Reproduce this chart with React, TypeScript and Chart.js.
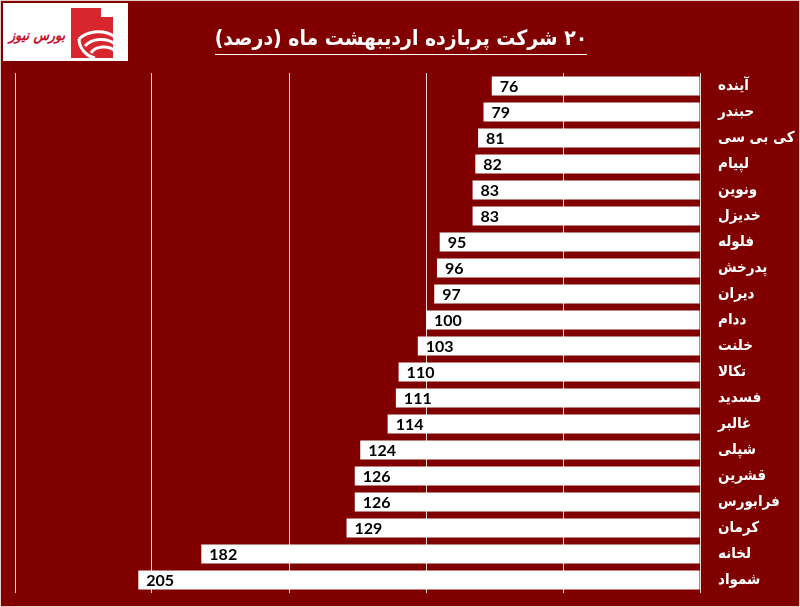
import React, { useEffect, useRef } from "react";
import { Chart, registerables } from "chart.js";

Chart.register(...registerables);

const categories = [
  "آینده", "حبندر", "کی بی سی", "لپیام", "ونوین", "خدیزل", "فلوله", "پدرخش", "دیران", "ددام",
  "خلنت", "تکالا", "فسدید", "غالبر", "شپلی", "قشرین", "فرابورس", "کرمان", "لخانه", "شمواد",
];
const values = [76, 79, 81, 82, 83, 83, 95, 96, 97, 100, 103, 110, 111, 114, 124, 126, 126, 129, 182, 205];
const axisMax = 250;
const axisStep = 50;
const title = "۲۰ شرکت پربازده اردیبهشت ماه (درصد)";
const logoText = "بورس نیوز";

const BG = "#800000";

const valueLabels = {
  id: "valueLabels",
  afterDatasetsDraw(chart: any) {
    const ctx = chart.ctx;
    const meta = chart.getDatasetMeta(0);
    ctx.save();
    ctx.font = "bold 16px Lato";
    ctx.fillStyle = "#000";
    ctx.textAlign = "left";
    ctx.textBaseline = "middle";
    meta.data.forEach((bar: any, i: number) => {
      ctx.fillText(String(values[i]), bar.x + 8, bar.y + 1);
    });
    ctx.restore();
  },
};

function Logo() {
  return (
    <svg width={125} height={58} style={{ position: "absolute", left: 2, top: 2 }}>
      <rect x={0} y={0} width={125} height={58} fill="#fff" />
      <text
        x={6}
        y={37}
        fontFamily="DejaVu Sans Condensed"
        fontWeight="bold"
        fontStyle="italic"
        fontSize={14}
        fill="#c8102e"
        textLength={56}
        lengthAdjust="spacingAndGlyphs"
      >
        {logoText}
      </text>
      <path d="M68 5 L98 5 L98 14 L110 14 L110 55 L68 55 Z" fill="#d7262e" />
      <path d="M112 34 A26 22 0 0 0 76 36" stroke="#fff" strokeWidth={3} fill="none" />
      <path d="M112 41 A20 16 0 0 0 82 43" stroke="#fff" strokeWidth={3} fill="none" />
      <path d="M112 48 A14 10 0 0 0 88 50" stroke="#fff" strokeWidth={3} fill="none" />
      <path d="M76 36 A20 20 0 0 0 92 55" stroke="#fff" strokeWidth={3} fill="none" />
    </svg>
  );
}

export default function App() {
  const canvasRef = useRef<HTMLCanvasElement | null>(null);

  useEffect(() => {
    if (!canvasRef.current) return;
    const chart = new Chart(canvasRef.current, {
      type: "bar",
      data: {
        labels: categories,
        datasets: [
          {
            data: values,
            backgroundColor: "#ffffff",
            borderWidth: 0,
            barPercentage: 0.73,
            categoryPercentage: 1,
          },
        ],
      },
      options: {
        indexAxis: "y",
        responsive: false,
        animation: false,
        devicePixelRatio: 1,
        layout: { padding: { top: 73, bottom: 14, left: 15, right: 0 } },
        plugins: {
          legend: { display: false },
          tooltip: { enabled: false },
          title: { display: false },
        },
        scales: {
          x: {
            reverse: true,
            min: 0,
            max: axisMax,
            ticks: { display: false, stepSize: axisStep },
            grid: { color: "rgba(255,255,255,0.85)", lineWidth: 1, drawTicks: false },
            border: { display: false },
            afterFit(scale: any) {
              scale.height = 0;
              scale.paddingLeft = 0;
              scale.paddingRight = 0;
            },
          },
          y: {
            position: "right",
            grid: { display: false, drawTicks: false },
            border: { display: false },
            ticks: {
              color: "#ffffff",
              padding: 18,
              font: { family: "DejaVu Sans Condensed", weight: "bold", size: 15 },
            },
            afterFit(scale: any) {
              scale.width = 100;
              scale.paddingTop = 0;
              scale.paddingBottom = 0;
            },
          },
        },
      },
      plugins: [valueLabels],
    });
    return () => chart.destroy();
  }, []);

  return (
    <div
      style={{
        position: "absolute",
        left: 0,
        top: 0,
        width: 800,
        height: 607,
        background: BG,
        boxSizing: "border-box",
        border: "1px solid #e8cccc",
        overflow: "hidden",
      }}
    >
      <canvas ref={canvasRef} width={800} height={607} style={{ position: "absolute", left: -1, top: -1 }} />
      <Logo />
      <div
        style={{
          position: "absolute",
          left: 0,
          top: 23,
          width: 800,
          textAlign: "center",
          color: "#fff",
          fontFamily: "DejaVu Sans Condensed",
          fontWeight: "bold",
          fontSize: 21,
        }}
      >
        <span
          dir="rtl"
          style={{ display: "inline-block", borderBottom: "1.5px solid #fff", paddingBottom: 2, lineHeight: "28px" }}
        >
          {title}
        </span>
      </div>
    </div>
  );
}
